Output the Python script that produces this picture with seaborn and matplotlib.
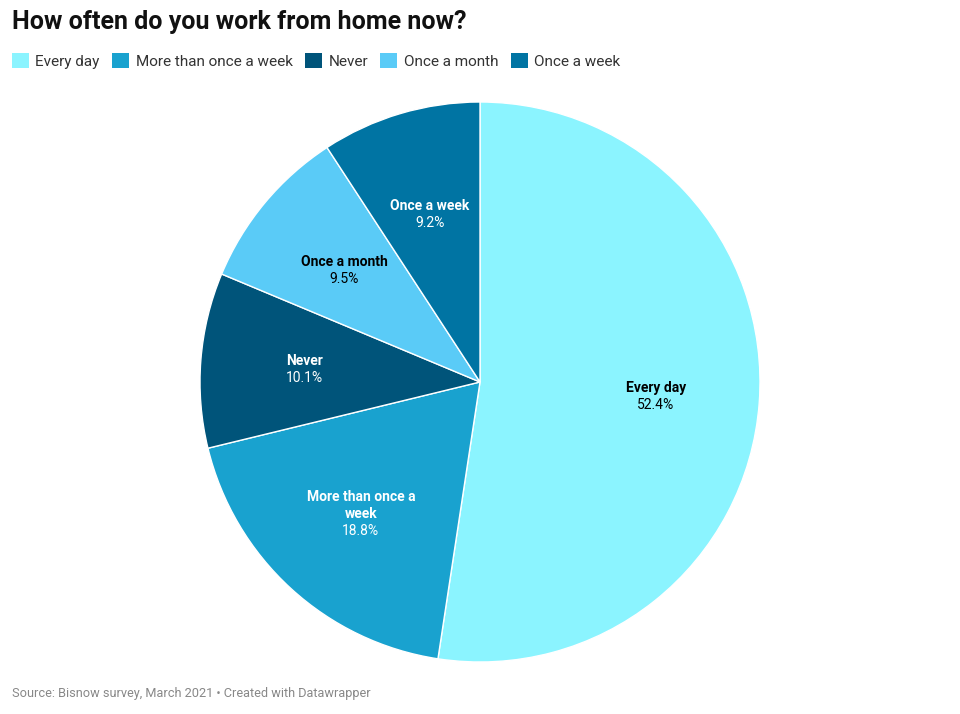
import matplotlib
matplotlib.use("Agg")
import matplotlib.pyplot as plt
import seaborn as sns
from matplotlib.patches import Patch
import numpy as np

categories = ["Every day", "More than once a week", "Never", "Once a month", "Once a week"]
shares = [52.4, 18.8, 10.1, 9.5, 9.2]
slice_labels = ["Every day", "More than once a\nweek", "Never", "Once a month", "Once a week"]
colors = ["#8bf4ff", "#19a2cf", "#00547a", "#5acbf7", "#0074a3"]
text_colors = ["#000000", "#ffffff", "#ffffff", "#000000", "#ffffff"]

sns.set_theme(style="white")
plt.rcParams['font.family'] = ['Roboto', 'DejaVu Sans']

fig = plt.figure(figsize=(9.6, 7.14), dpi=100)

# pie axes: centre (480, 382) px, radius 280 px
ax = fig.add_axes([200 / 960, (714 - 382 - 280) / 714, 560 / 960, 560 / 714])
wedges, _ = ax.pie(shares, colors=colors, startangle=90, counterclock=False,
                   wedgeprops=dict(edgecolor="white", linewidth=1))
ax.set_xlim(-1, 1)
ax.set_ylim(-1, 1)
ax.set_aspect("equal")
ax.axis("off")

# slice labels: bold name lines + percentage, block centred on the anchor
lh = 17 / 280
for w, lab, val, tc in zip(wedges, slice_labels, shares, text_colors):
    ang = np.deg2rad((w.theta1 + w.theta2) / 2)
    x, y = 0.63 * np.cos(ang), 0.63 * np.sin(ang) - 0.006
    lines = lab.split("\n") + [f"{val}%"]
    n = len(lines)
    for i, line in enumerate(lines):
        yy = y + ((n - 1) / 2 - i) * lh
        ax.text(x, yy, line, ha="center", va="center", fontsize=10,
                fontweight="bold" if i < n - 1 else "normal", color=tc)

fig.text(12 / 960, 1 - 22 / 714, "How often do you work from home now?",
         fontsize=18, fontweight="bold", ha="left", va="center", color="#111111")

handles = [Patch(facecolor=c, edgecolor="none") for c in colors]
fig.legend(handles, categories, loc="center left", bbox_to_anchor=(-2 / 960, 1 - 61 / 714),
           ncol=5, frameon=False, fontsize=11, handlelength=1.1, handleheight=1.1,
           handletextpad=0.45, columnspacing=0.8, labelcolor="#333333")

fig.text(12 / 960, 1 - 693 / 714, "Source: Bisnow survey, March 2021 \u2022 Created with Datawrapper",
         fontsize=9.2, color="#888888", ha="left", va="center")

fig.savefig("out.png", dpi=100, facecolor="white")
